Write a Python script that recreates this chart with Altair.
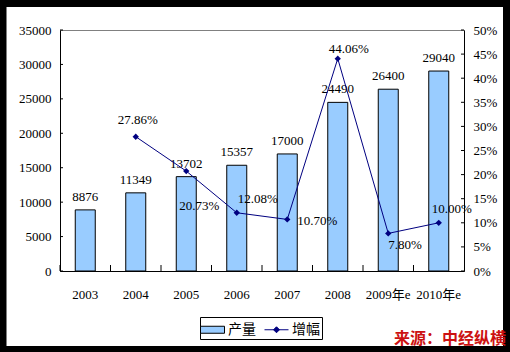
import altair as alt
import pandas as pd

# ---------------- data ----------------
years = ["2003", "2004", "2005", "2006", "2007", "2008", "2009年e", "2010年e"]
output = [8876, 11349, 13702, 15357, 17000, 24490, 26400, 29040]
growth = [None, 0.2786, 0.2073, 0.1208, 0.1070, 0.4406, 0.0780, 0.1000]
left_ticks = [0, 5000, 10000, 15000, 20000, 25000, 30000, 35000]
right_ticks = [0, 0.05, 0.10, 0.15, 0.20, 0.25, 0.30, 0.35, 0.40, 0.45, 0.50]
series = ["产量", "增幅"]
SOURCE = "来源：中经纵横"

df = pd.DataFrame({"year": years, "output": output, "growth": growth})
lt_df = pd.DataFrame({"v": left_ticks})
rt_df = pd.DataFrame({"v": right_ticks})
leg_df = pd.DataFrame({"series": series})

NUM_FONT = "Liberation Serif, Noto Sans CJK SC"
CJK_FONT = "Noto Sans CJK SC"
BAR_FILL = "#99CCFF"
NAVY = "#000080"

# ---------------- encodings ----------------
x_scale = alt.Scale(paddingInner=0, paddingOuter=0)
x_axis = alt.Axis(labelAngle=0, ticks=False, domainColor="black", labelPadding=17,
                  labelFont=NUM_FONT, labelFontSize=13, labelColor="black", zindex=1,
                  grid=False)
x_enc = alt.X("year:N", sort=years, scale=x_scale, axis=x_axis, title=None)

yl_scale = alt.Scale(domain=[0, 35000], nice=False)
yl_axis = alt.Axis(values=left_ticks, ticks=False, grid=False, domainColor="black",
                   labelPadding=9, labelFont=NUM_FONT, labelFontSize=13, format="d",
                   labelColor="black", zindex=1, orient="left")
yr_scale = alt.Scale(domain=[0, 0.5], nice=False)
yr_axis = alt.Axis(values=right_ticks, ticks=False, grid=False, domainColor="black",
                   labelPadding=9, labelFont=NUM_FONT, labelFontSize=13,
                   labelColor="black", zindex=1, orient="right", format=".0%")

# ---------------- left (bars) ----------------
bars = alt.Chart(df).mark_bar(size=20, fill=BAR_FILL, stroke="black", strokeWidth=1).encode(
    x=x_enc, y=alt.Y("output:Q", scale=yl_scale, axis=yl_axis, title=None))
bar_labels = alt.Chart(df).mark_text(baseline="alphabetic", dy=-9, font=NUM_FONT,
                                     fontSize=13, color="black").encode(
    x=x_enc, y=alt.Y("output:Q", scale=yl_scale, axis=yl_axis, title=None),
    text=alt.Text("output:Q", format="d"))
left_tick_rules = alt.Chart(lt_df).mark_rule(color="black", strokeWidth=1).encode(
    y=alt.Y("v:Q", scale=yl_scale, axis=yl_axis, title=None),
    x=alt.value(0), x2=alt.value(3))
x_tick_rules = alt.Chart(df).mark_rule(color="black", strokeWidth=1).encode(
    x=alt.X("year:N", sort=years, scale=x_scale, axis=x_axis, title=None, bandPosition=0),
    y=alt.value(235), y2=alt.value(241))

left = alt.layer(bars, bar_labels, left_tick_rules, x_tick_rules)

# ---------------- right (growth line) ----------------
yr_enc = alt.Y("growth:Q", scale=yr_scale, axis=yr_axis, title=None)
line = alt.Chart(df).transform_filter("isValid(datum.growth)").mark_line(
    color=NAVY, strokeWidth=1).encode(x=x_enc, y=yr_enc)
pts = alt.Chart(df).transform_filter("isValid(datum.growth)").mark_point(
    shape="diamond", filled=True, size=40, color=NAVY, opacity=1).encode(x=x_enc, y=yr_enc)

label_groups = [
    (["2004"], "center", 2, -13),
    (["2005"], "left", -7, 39),
    (["2006"], "left", 1, -10),
    (["2007"], "left", 10, 6),
    (["2008"], "left", -9, -6),
    (["2009年e"], "left", 0, 16),
    (["2010年e"], "left", -7, -10),
]
line_labels = []
for ys, al, ddx, ddy in label_groups:
    line_labels.append(
        alt.Chart(df).transform_filter(alt.FieldOneOfPredicate(field="year", oneOf=ys))
        .mark_text(align=al, baseline="alphabetic", dx=ddx, dy=ddy, font=NUM_FONT,
                   fontSize=13, color="black")
        .encode(x=x_enc, y=yr_enc, text=alt.Text("growth:Q", format=".2%")))

right_tick_rules = alt.Chart(rt_df).mark_rule(color="black", strokeWidth=1).encode(
    y=alt.Y("v:Q", scale=yr_scale, axis=yr_axis, title=None),
    x=alt.value(401), x2=alt.value(404))

right = alt.layer(line, pts, *line_labels, right_tick_rules)

# ---------------- legend ----------------
RECT_PATH = "M-1.2,-0.35L1.2,-0.35L1.2,0.35L-1.2,0.35Z"
LINE_PATH = "M-1.2,0L1.2,0M0,-0.3L0.3,0L0,0.3L-0.3,0Z"
legend_def = alt.Legend(title=None, orient="none", legendX=140, legendY=287,
                        direction="horizontal", strokeColor="black", fillColor="white",
                        padding=2, symbolSize=400, symbolStrokeWidth=1, symbolOpacity=1,
                        labelFont=CJK_FONT, labelFontSize=14, labelColor="black",
                        labelOffset=5, columnPadding=6)
legend_layer = alt.Chart(leg_df).mark_point(filled=True, opacity=0).encode(
    shape=alt.Shape("series:N", scale=alt.Scale(domain=series, range=[RECT_PATH, LINE_PATH]),
                    legend=legend_def),
    fill=alt.Fill("series:N", scale=alt.Scale(domain=series, range=[BAR_FILL, NAVY]),
                  legend=legend_def),
    stroke=alt.Stroke("series:N", scale=alt.Scale(domain=series, range=["black", NAVY]),
                      legend=legend_def))

# ---------------- frame and source ----------------
one = pd.DataFrame({"t": [SOURCE]})
border = alt.Chart(one).mark_rect(fill="white", fillOpacity=0, stroke="black",
                                  strokeWidth=7).encode(
    x=alt.value(-57), x2=alt.value(446.5), y=alt.value(-26.5), y2=alt.value(319.5))
src = alt.Chart(one).mark_text(align="right", baseline="alphabetic", font=CJK_FONT,
                               fontSize=16, fontWeight="bold", color="#CC1111").encode(
    x=alt.value(446), y=alt.value(314), text="t:N")

chart = alt.layer(left, right, legend_layer, border, src).resolve_scale(
    y="independent"
).properties(
    width=404, height=241,
    padding={"left": 60, "top": 30, "right": 46, "bottom": 81},
    autosize=alt.AutoSizeParams(type="none"),
    background="white",
).configure_view(stroke="#808080", strokeWidth=1)

chart.save("out.html", embed_options={"renderer": "svg", "actions": False})
